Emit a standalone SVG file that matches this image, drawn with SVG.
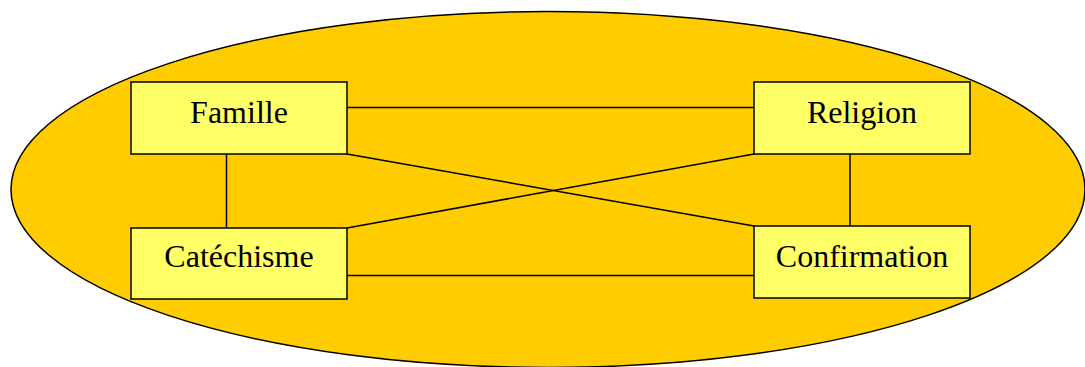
<svg xmlns="http://www.w3.org/2000/svg" width="1085" height="367" viewBox="0 0 1085 367">
<style>
.bg{fill:#FFCC00;stroke:#000;stroke-width:1.5}
.box{fill:#FFFF66;stroke:#000;stroke-width:1.5}
.lbl{font-family:"Liberation Serif","Times New Roman",serif;font-size:32px;fill:#000;text-anchor:middle}
.con line{stroke:#000;stroke-width:1.5}
</style>
<rect width="1085" height="367" fill="#fff"/>
<ellipse class="bg" cx="548" cy="189.5" rx="537" ry="178"/>
<g class="con" id="connectors">
<line x1="347" y1="107.5" x2="754" y2="107.5"/>
<line x1="347" y1="275.5" x2="754" y2="275.5"/>
<line x1="226.5" y1="154" x2="226.5" y2="228"/>
<line x1="850" y1="154" x2="850" y2="226"/>
<line x1="347" y1="154" x2="754" y2="226"/>
<line x1="347" y1="228" x2="754" y2="154"/>
</g>
<g id="famille">
<rect class="box" x="131" y="82" width="216" height="72"/>
<text class="lbl" x="239" y="123">Famille</text>
</g>
<g id="religion">
<rect class="box" x="754" y="82" width="216" height="72"/>
<text class="lbl" x="862" y="123">Religion</text>
</g>
<g id="catechisme">
<rect class="box" x="131" y="228" width="216" height="71"/>
<text class="lbl" x="239" y="267">Catéchisme</text>
</g>
<g id="confirmation">
<rect class="box" x="754" y="226" width="216" height="72"/>
<text class="lbl" x="862" y="267">Confirmation</text>
</g>
</svg>
